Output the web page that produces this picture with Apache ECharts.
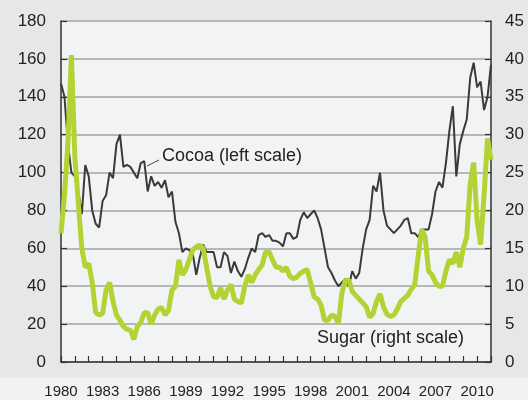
<!DOCTYPE html>
<html>
<head>
<meta charset="utf-8">
<script src="https://cdn.jsdelivr.net/npm/echarts@6/dist/echarts.min.js"></script>
<style>
  html, body { margin: 0; padding: 0; background: #e6e7e9; }
  #chart { width: 528px; height: 400px; }
</style>
</head>
<body>
<div id="chart"></div>
<script>
// quarterly readings, first point = start of 1980
const startYear = 1980;
const cocoa = [
  147, 140, 115, 100,
  98, 90, 78, 104,
  98, 80, 73, 71,
  85, 88, 100, 97,
  115, 120, 103, 104,
  103, 100, 97, 105,
  106, 90, 98, 93,
  95, 92, 96, 87,
  90, 74, 68, 58,
  60, 59, 57, 46,
  55, 62, 58, 58,
  58, 50, 50, 58,
  56, 47, 53, 48,
  45, 49, 55, 60,
  58, 67, 68, 66,
  67, 64, 64, 63,
  61, 68, 68, 65,
  66, 75, 79, 76,
  78, 80, 76, 70,
  60, 50, 47, 43,
  40, 42, 44, 40,
  48, 44, 47, 60,
  70, 75, 93, 90,
  100, 80, 72, 70,
  68, 70, 72, 75,
  76, 68, 68, 66,
  70, 70, 70, 78,
  90, 95, 92, 105,
  122, 135, 98, 115,
  122, 128, 150, 158,
  145, 148, 133, 140,
  157
];
const sugar = [
  17, 22, 29, 40.5,
  27, 21, 15, 12.5,
  13, 10.5, 6.5, 6.2,
  6.4, 9.5, 10.5, 8,
  6.2, 5.5, 4.7, 4.3,
  4.2, 3.0, 4.7, 5.2,
  6.5, 6.5, 5.0, 6.2,
  7.0, 7.2, 6.2, 6.8,
  9.5, 10, 13.5, 11.5,
  12.2, 13.5, 14.8, 15.2,
  15.4, 15, 12.5, 10,
  8.6, 8.5, 9.8, 8.3,
  9.5, 10.2, 8.3, 8.0,
  7.8, 10.0, 11.5, 10.5,
  11.5, 12.2, 12.8, 14.5,
  14.5, 13.5, 12.5, 12.5,
  12, 12.5, 11.3, 11,
  11.2, 11.7, 12, 12.2,
  10.4, 8.6, 8.3, 7.5,
  5.5, 5.5, 6.2, 6,
  5.1, 9.1, 10.8, 10.8,
  9.3, 8.8, 8.3, 7.8,
  7.3, 5.9, 6.4, 8.0,
  9.0, 7.3, 6.3, 6.0,
  6.2, 7.0, 8.0, 8.4,
  8.8, 9.6, 10.2, 14,
  17.5, 16.5, 12, 11.5,
  10.5, 10, 10, 12,
  13.5, 13, 14.5, 12.5,
  15, 16.5, 23.5, 26.3,
  18.7, 15.5, 22, 29.5,
  26.7
];
const leftTicks = { min: 0, max: 180, step: 20 };
const rightTicks = { min: 0, max: 45, step: 5 };

const font = '"Liberation Sans", Arial, Helvetica, sans-serif';
const toPairs = arr => arr.map((v, i) => [startYear + i / 4, v]);

const mychart = echarts.init(document.getElementById('chart'), null, { renderer: 'canvas' });
const option = {
  backgroundColor: '#e6e7e9',
  animation: false,
  grid: {
    left: 61, right: 37, top: 21, bottom: 38,
    show: true, backgroundColor: '#f2f3f5', borderWidth: 0
  },
  xAxis: {
    type: 'value',
    min: 1980, max: 2011, interval: 1,
    axisLine: { show: true, lineStyle: { color: '#333', width: 1.5 } },
    axisTick: { show: true, inside: true, length: 6, lineStyle: { color: '#333', width: 1.2 } },
    splitLine: { show: false },
    axisLabel: {
      margin: 22, color: '#222', fontSize: 15, fontFamily: font,
      formatter: v => ((v - 1980) % 3 === 0 ? String(v) : '')
    }
  },
  yAxis: [
    {
      type: 'value', min: leftTicks.min, max: leftTicks.max, interval: leftTicks.step,
      axisLine: { show: true, lineStyle: { color: '#333', width: 1.5 } },
      axisTick: { show: true, inside: true, length: 6, lineStyle: { color: '#333', width: 1.2 } },
      splitLine: { show: true, lineStyle: { color: '#a3a3a3', width: 1.5 } },
      axisLabel: { margin: 15, color: '#222', fontSize: 17, fontFamily: font }
    },
    {
      type: 'value', min: rightTicks.min, max: rightTicks.max, interval: rightTicks.step,
      axisLine: { show: true, lineStyle: { color: '#333', width: 1.5 } },
      axisTick: { show: true, inside: true, length: 6, lineStyle: { color: '#333', width: 1.2 } },
      splitLine: { show: false },
      axisLabel: { margin: 14, color: '#222', fontSize: 17, fontFamily: font }
    }
  ],
  series: [
    {
      name: 'Cocoa', type: 'line', yAxisIndex: 0, data: toPairs(cocoa),
      showSymbol: false, lineStyle: { color: '#3a3a3a', width: 2 }, z: 3
    },
    {
      name: 'Sugar', type: 'line', yAxisIndex: 1, data: toPairs(sugar),
      showSymbol: false, lineStyle: { color: '#b3d335', width: 5 }, z: 4
    }
  ],
  graphic: [
    {
      type: 'rect', left: 0, top: 378, z: -1, silent: true,
      shape: { width: 528, height: 22 }, style: { fill: '#f1f2f4' }
    },
    {
      type: 'line', silent: true, z: 10,
      shape: { x1: 147, y1: 166, x2: 159, y2: 160 },
      style: { stroke: '#444', lineWidth: 1 }
    },
    {
      type: 'text', left: 162, top: 147, z: 10, silent: true,
      style: { text: 'Cocoa (left scale)', fill: '#222', font: '18px ' + font }
    },
    {
      type: 'text', left: 317, top: 329, z: 10, silent: true,
      style: { text: 'Sugar (right scale)', fill: '#222', font: '18px ' + font }
    }
  ]
};
mychart.setOption(option);
</script>
</body>
</html>
